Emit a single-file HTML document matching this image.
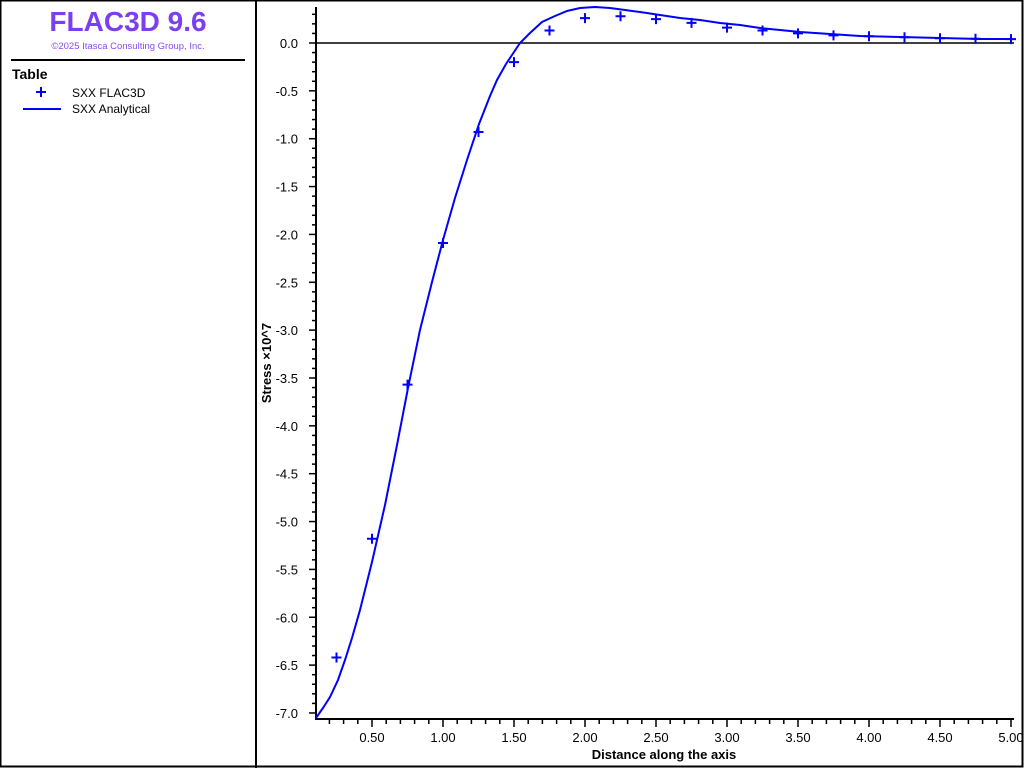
<!DOCTYPE html>
<html><head><meta charset="utf-8"><style>
html,body{margin:0;padding:0;background:#fff;}
svg{display:block;font-family:"Liberation Sans",sans-serif;}
</style></head><body>
<svg width="1024" height="768" viewBox="0 0 1024 768" xmlns="http://www.w3.org/2000/svg">
<rect x="0.5" y="0.5" width="1022" height="766" fill="#fff" stroke="#000" stroke-width="2"/>
<line x1="256" y1="0" x2="256" y2="768" stroke="#000" stroke-width="2"/>
<text x="128" y="31" text-anchor="middle" font-size="28" font-weight="bold" fill="#7b3ff2">FLAC3D 9.6</text>
<text x="128" y="49" text-anchor="middle" font-size="9.5" fill="#8a4cf0">©2025 Itasca Consulting Group, Inc.</text>
<line x1="11" y1="60" x2="245" y2="60" stroke="#000" stroke-width="2"/>
<text x="12" y="79" font-size="14" font-weight="bold">Table</text>
<path d="M36 92h10M41 87v10" stroke="#0000ff" stroke-width="2"/>
<text x="72" y="97" font-size="12">SXX FLAC3D</text>
<line x1="23" y1="109" x2="61" y2="109" stroke="#0000ff" stroke-width="2"/>
<text x="72" y="113" font-size="12">SXX Analytical</text>
<g id="axes" stroke="#000">
<line x1="316" y1="7" x2="316" y2="720" stroke-width="2"/>
<line x1="315" y1="719" x2="1014" y2="719" stroke-width="2"/>
<line x1="316" y1="43" x2="1014" y2="43" stroke-width="1.5"/>
</g>
<g id="yt" stroke="#000" stroke-width="1.5"></g>
<g id="xt" stroke="#000" stroke-width="1.5"></g>
<g id="yl" font-size="13" text-anchor="end"></g>
<g id="xl" font-size="13" text-anchor="middle"></g>
<text transform="translate(271,363) rotate(-90)" text-anchor="middle" font-size="13" font-weight="bold">Stress ×10^7</text>
<text x="664" y="759" text-anchor="middle" font-size="13" font-weight="bold">Distance along the axis</text>
<path fill="none" stroke="#0000ff" stroke-width="2" d="M316 718 L323 708 L330 697 L338 680 L345 660 L352 638 L360 610 L372 562 L385 505 L397 445 L408 388 L420 330 L432 282 L443 240 L455 198 L467 160 L479 124 L490 96 L497 80 L506 64 L514 52 L520 43 L530 33 L542 22 L555 16 L567 11 L580 8 L595 7 L610 8 L625 10 L640 12 L660 15 L680 18 L700 20 L720 23 L740 25 L760 28 L780 30 L800 32 L830 34 L860 36 L900 37 L940 38 L980 39 L1013 39"/>
<g id="mk" stroke="#0000ff" stroke-width="2"></g>
</svg>
<script>
var ns="http://www.w3.org/2000/svg";
function el(p,t,a,txt){var e=document.createElementNS(ns,t);for(var k in a)e.setAttribute(k,a[k]);if(txt)e.textContent=txt;document.getElementById(p).appendChild(e);}
function Y(v){return 43-v*95.71;}
function X(v){return 443+(v-1)*142;}
for(var i=3;i>=-70;i--){var v=i/10,y=Y(v),maj=(i%5==0);
 el("yt","line",{x1:maj?309:312,y1:y,x2:316,y2:y});
 if(maj&&i<=0)el("yl","text",{x:298,y:y+5},(v==0?"0.0":v.toFixed(1)));}
for(var i=2;i<=50;i++){var v=i/10,x=X(v),maj=(i%5==0);
 el("xt","line",{x1:x,y1:719,x2:x,y2:maj?727:724});
 if(maj)el("xl","text",{x:x,y:742},v.toFixed(2));}
var d=[[0.25,-6.42],[0.5,-5.18],[0.75,-3.57],[1,-2.09],[1.25,-0.93],[1.5,-0.2],[1.75,0.13],[2,0.26],[2.25,0.28],[2.5,0.25],[2.75,0.21],[3,0.16],[3.25,0.13],[3.5,0.1],[3.75,0.08],[4,0.07],[4.25,0.06],[4.5,0.05],[4.75,0.045],[5,0.04]];
d.forEach(function(p){var x=X(p[0]),y=Y(p[1]);el("mk","path",{d:"M"+(x-5)+" "+y+"h10M"+x+" "+(y-5)+"v10"});});
</script>
</body></html>
